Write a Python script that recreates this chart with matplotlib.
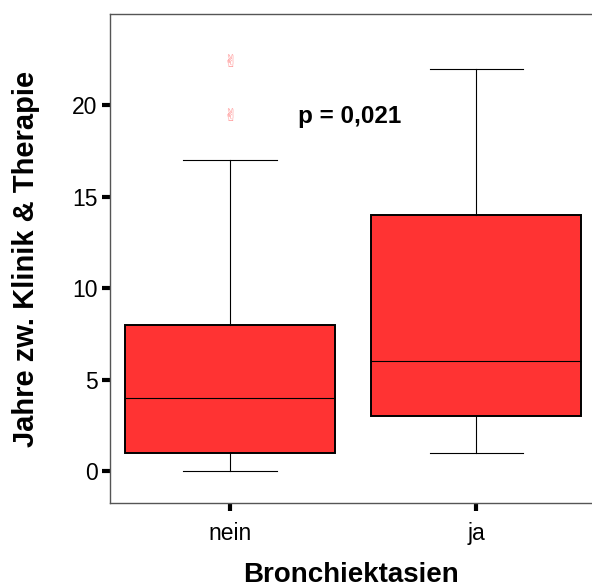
import numpy as np
import matplotlib
matplotlib.use('Agg')
import matplotlib.pyplot as plt

plt.rcParams['font.family'] = ['Liberation Sans', 'DejaVu Sans']

# Kategorien und Boxplot-Kennwerte
categories = ['nein', 'ja']
whisker_low = [0, 1]
q1 = [1, 3]
median = [4, 6]
q3 = [8, 14]
whisker_high = [17, 22]
outliers = [[19.4, 22.4], []]
p_text = 'p = 0,021'

stats = []
for i, name in enumerate(categories):
    stats.append({'label': name, 'whislo': whisker_low[i], 'q1': q1[i], 'med': median[i],
                  'q3': q3[i], 'whishi': whisker_high[i], 'fliers': []})

fig = plt.figure(figsize=(5.92, 5.88), dpi=100)
ax = fig.add_axes([0.186, 0.1446, 0.814, 0.8316])

ax.bxp(stats, positions=[1, 2], widths=0.854, patch_artist=True, showfliers=False,
       boxprops=dict(facecolor='#ff3333', edgecolor='black', linewidth=1.4),
       medianprops=dict(color='black', linewidth=0.8),
       whiskerprops=dict(color='black', linewidth=0.8),
       capprops=dict(color='black', linewidth=0.8),
       capwidths=0.38)

# Ausreißer als Symbole
for i, vals in enumerate(outliers):
    for v in vals:
        ax.text(i + 1, v, '\u270C', family=['DejaVu Sans', 'Noto Sans CJK JP'], fontsize=12,
                color='#ff8c8c', ha='center', va='center')

ax.text(1.276, 19.4, p_text, fontsize=17.5, fontweight='bold', va='center', ha='left')

ax.set_xlim(0.512, 2.47)
ax.set_ylim(-1.75, 25)
ax.set_yticks([0, 5, 10, 15, 20])
ax.set_xticks([1, 2])
ax.set_xticklabels(categories)

ax.tick_params(axis='both', length=6, width=3, color='black', labelsize=16.5, pad=3)
ax.tick_params(axis='x', pad=8)

for side in ['left', 'top', 'bottom']:
    ax.spines[side].set_color('#555555')
    ax.spines[side].set_linewidth(1)
ax.spines['right'].set_visible(False)

ax.set_ylabel('Jahre zw. Klinik & Therapie', fontsize=21, fontweight='bold', labelpad=23)
ax.set_xlabel('Bronchiektasien', fontsize=20, fontweight='bold')
ax.xaxis.label.set_va('baseline')
ax.xaxis.set_label_coords(0.5, -0.1616)

fig.savefig('out.png', dpi=100)
